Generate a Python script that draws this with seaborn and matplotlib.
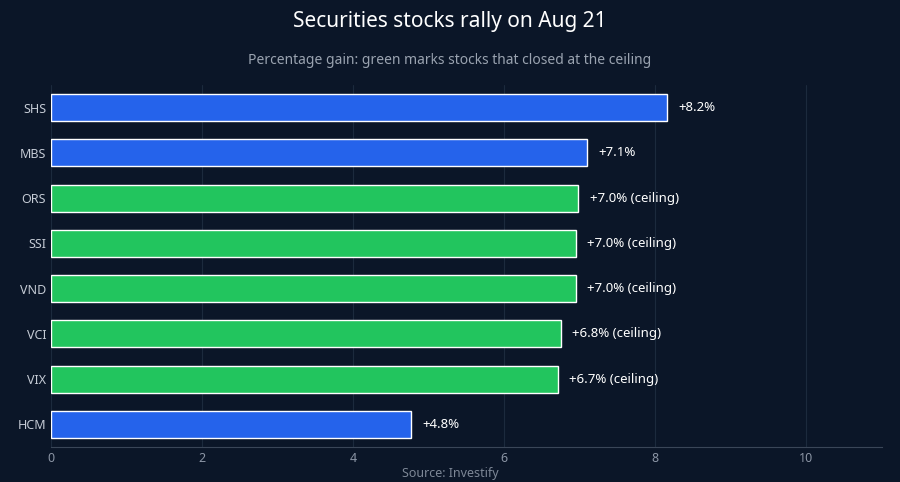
import matplotlib
matplotlib.use("Agg")
import matplotlib.pyplot as plt
import seaborn as sns
import pandas as pd

tickers = ["SHS", "MBS", "ORS", "SSI", "VND", "VCI", "VIX", "HCM"]
gains = [8.15, 7.09, 6.98, 6.95, 6.95, 6.75, 6.71, 4.77]
ceiling = [False, False, True, True, True, True, True, False]
labels = ["+8.2%", "+7.1%", "+7.0% (ceiling)", "+7.0% (ceiling)", "+7.0% (ceiling)",
          "+6.8% (ceiling)", "+6.7% (ceiling)", "+4.8%"]

BG = "#0b1628"
BLUE, GREEN = "#2563eb", "#22c55e"

sns.set_style("dark")
plt.rcParams['font.family'] = ['Noto Sans', 'DejaVu Sans']

df = pd.DataFrame({"ticker": tickers, "gain": gains,
                   "kind": ["c" if c else "n" for c in ceiling]})

fig = plt.figure(figsize=(9, 4.82), dpi=100, facecolor=BG)
ax = fig.add_axes([51/900, 1 - 447/482, 831/900, 362/482])
ax.set_facecolor(BG)
sns.barplot(data=df, x="gain", y="ticker", hue="kind", palette={"c": GREEN, "n": BLUE},
            width=0.6, legend=False, ax=ax, saturation=1)

for i, (v, t) in enumerate(zip(gains, labels)):
    ax.text(v + 0.15, i, t, va="center", ha="left", color="white",
            fontsize=9.5, fontweight="bold")

ax.set_xlim(0, 11)
ax.set_xticks([0, 2, 4, 6, 8, 10])
ax.set_xlabel(""); ax.set_ylabel("")
ax.grid(axis="x", color="#1c2a3d", lw=0.8)
ax.grid(axis="y", visible=False)
ax.set_axisbelow(True)
for s in ["top", "right", "left"]:
    ax.spines[s].set_visible(False)
ax.spines["bottom"].set_color("#3a4658")
ax.tick_params(axis="x", colors="#8b95a5", labelsize=9, length=0)
ax.tick_params(axis="y", colors="#c5cbd5", labelsize=9, length=0)
for lb in ax.get_yticklabels():
    lb.set_fontweight("bold")

fig.text(0.5, 1 - 22/482, "Securities stocks rally on Aug 21", ha="center", va="center",
         color="white", fontsize=15)
fig.text(0.5, 1 - 60/482, "Percentage gain: green marks stocks that closed at the ceiling",
         ha="center", va="center", color="#9aa3b0", fontsize=10)
fig.text(0.5, 1 - 473/482, "Source: Investify", ha="center", va="center",
         color="#7d8796", fontsize=9)

fig.savefig("out.png", facecolor=BG)
